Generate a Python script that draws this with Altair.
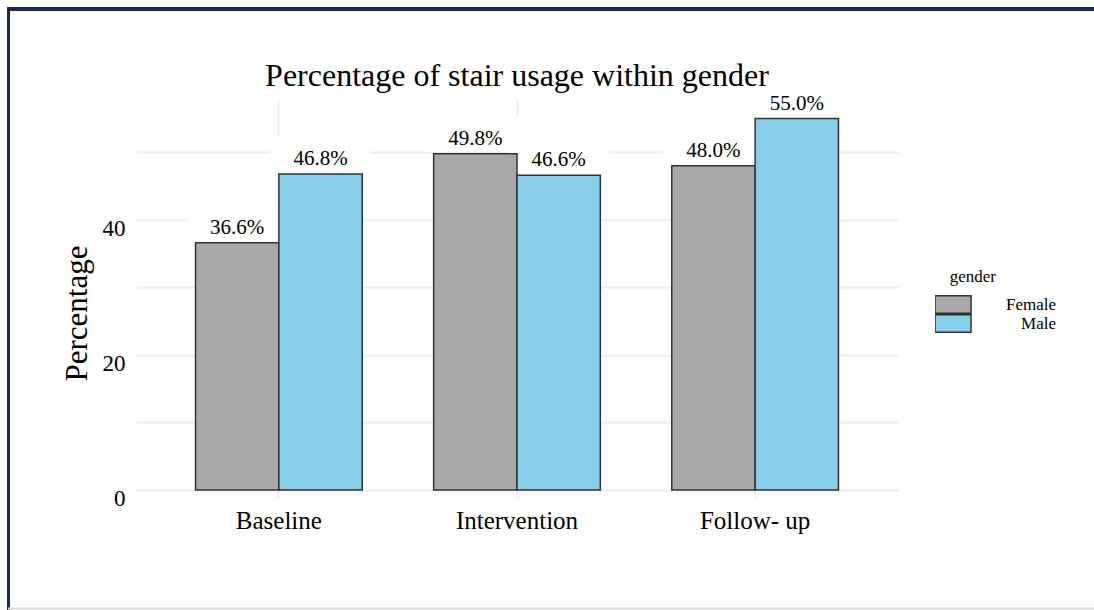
import altair as alt
import pandas as pd

# Stair usage (%) by study phase and gender
periods = ["Baseline", "Intervention", "Follow- up"]
genders = ["Female", "Male"]
female_pct = [36.6, 49.8, 48.0]
male_pct = [46.8, 46.6, 55.0]
gender_colors = ["#A9A9A9", "#87CEEB"]

rows = []
for i, p in enumerate(periods):
    for g, vals in (("Female", female_pct), ("Male", male_pct)):
        rows.append({"period": p, "gender": g, "pct": vals[i], "label": f"{vals[i]:.1f}%"})
df = pd.DataFrame(rows)

SERIF = "Liberation Serif"
NAVY = "#172a4d"
GRID = "#EEEEEE"

# rectangular swatch / label backdrop shapes
label_box = "M-1,-0.36L1,-0.36L1,0.36L-1,0.36Z"
swatch = "M-1.086,-1L3.029,-1L3.029,1L-1.086,1Z"

base = alt.Chart(df).encode(
    x=alt.X(
        "period:N",
        sort=periods,
        scale=alt.Scale(paddingInner=0.3, paddingOuter=0.25),
        axis=alt.Axis(
            title=None, labelAngle=0, grid=True, bandPosition=0.5, ticks=False,
            domain=False, labelFont=SERIF, labelFontSize=25, labelColor="black",
            labelPadding=10, gridColor=GRID, gridWidth=2,
        ),
    ),
    xOffset=alt.XOffset("gender:N", sort=genders, scale=alt.Scale(paddingInner=0, paddingOuter=0)),
    y=alt.Y(
        "pct:Q",
        scale=alt.Scale(domain=[-1.2, 57.75], nice=False, zero=False),
        axis=alt.Axis(
            values=[0, 10, 20, 30, 40, 50],
            labelExpr="datum.value % 20 == 0 ? datum.label : ''",
            title="Percentage", titleFont=SERIF, titleFontSize=31, titleFontWeight="normal",
            titleColor="black", titleAngle=-90, titleX=-50, titleY=213, titleBaseline="alphabetic",
            titleAlign="center",
            ticks=False, domain=False, labelFont=SERIF, labelFontSize=23, labelColor="black",
            labelPadding=11, labelOffset=9, gridColor=GRID, gridWidth=2,
        ),
    ),
)

# white backdrops behind the value labels
boxes = base.mark_point(
    shape=label_box, size=10000, filled=True, color="white", opacity=1, strokeWidth=0, yOffset=-20
)

bars = base.mark_bar(stroke="#333333", strokeWidth=1.5).encode(
    y2=alt.datum(0),
    color=alt.Color(
        "gender:N",
        scale=alt.Scale(domain=genders, range=gender_colors),
        legend=alt.Legend(
            title="gender", orient="none", legendX=799, legendY=169,
            symbolType=swatch, symbolSize=306.25, symbolStrokeWidth=1.5,
            symbolStrokeColor="#333333", symbolOpacity=1, rowPadding=0, clipHeight=19,
            labelAlign="right", labelOffset=102, labelFont=SERIF, labelFontSize=17,
            labelColor="black", titleFont=SERIF, titleFontSize=17, titleFontWeight="normal",
            titleColor="black", titleAnchor="middle", titleAlign="right", titlePadding=9,
            padding=0,
        ),
    ),
)

labels = base.mark_text(
    dy=-9, baseline="alphabetic", font=SERIF, fontSize=21, color="black"
).encode(text="label:N")

# frame around the figure
one = pd.DataFrame({"k": [0]})
frame_top = alt.Chart(one).mark_rule(color=NAVY, strokeWidth=4).encode(
    x=alt.value(-129), x2=alt.value(958), y=alt.value(-91)
)
frame_left = alt.Chart(one).mark_rule(color=NAVY, strokeWidth=3).encode(
    x=alt.value(-127.5), y=alt.value(-93), y2=alt.value(510)
)
frame_bottom = alt.Chart(one).mark_rule(color="#dcdcdc", strokeWidth=2).encode(
    x=alt.value(-128), x2=alt.value(958), y=alt.value(508.5)
)

chart = alt.layer(frame_top, frame_left, frame_bottom, boxes, bars, labels).properties(
    width=762,
    height=398,
    padding={"left": 136, "top": 100, "right": 196, "bottom": 112},
    autosize="none",
    background="white",
    title=alt.TitleParams(
        text="Percentage of stair usage within gender", font=SERIF, fontSize=32,
        fontWeight="normal", color="black", anchor="middle", baseline="alphabetic",
        offset=0, dy=112,
    ),
).configure_view(stroke=None)

chart.save("out.html", embed_options={"renderer": "svg", "actions": False})
